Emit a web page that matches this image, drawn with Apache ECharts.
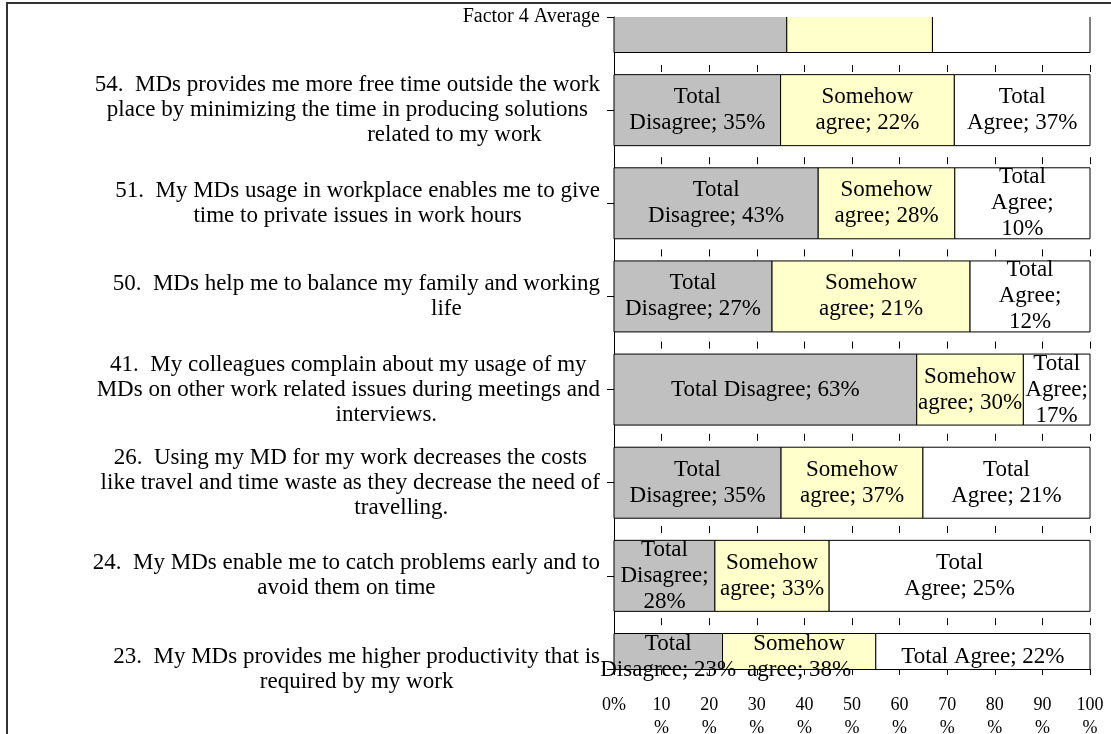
<!DOCTYPE html>
<html>
<head>
<meta charset="utf-8">
<script src="https://cdn.jsdelivr.net/npm/echarts@6/dist/echarts.min.js"></script>
<style>
  html, body { margin: 0; padding: 0; background: #fff; }
  #chart { width: 1111px; height: 734px; }
</style>
</head>
<body>
<div id="chart"></div>
<script>
// question labels, top to bottom
var categories = [
  'Factor 4 Average',
  '54.  MDs provides me more free time outside the work\nplace by minimizing the time in producing solutions\nrelated to my work',
  '51.  My MDs usage in workplace enables me to give\ntime to private issues in work hours',
  '50.  MDs help me to balance my family and working\nlife',
  '41.  My colleagues complain about my usage of my\nMDs on other work related issues during meetings and\ninterviews.',
  '26.  Using my MD for my work decreases the costs\nlike travel and time waste as they decrease the need of\ntravelling.',
  '24.  My MDs enable me to catch problems early and to\navoid them on time',
  '23.  My MDs provides me higher productivity that is\nrequired by my work'
]

// bar lengths (share of the 100% bar)
var disagreeLen = [36.3, 35.0, 42.9, 33.2, 63.6, 35.1, 21.2, 22.8]
var somehowLen = [30.6, 36.5, 28.7, 41.6, 22.4, 29.8, 24.0, 32.2]
var agreeLen = [33.1, 28.5, 28.4, 25.2, 14.0, 35.1, 54.8, 45.0]

// percentages printed in the data labels
var disagreePct = [null, 35, 43, 27, 63, 35, 28, 23]
var somehowPct = [null, 22, 28, 21, 30, 37, 33, 38]
var agreePct = [null, 37, 10, 12, 17, 21, 25, 22]

// how each label wraps: 0 one line, 1 break after first word, 2 break after every word
var disagreeWrap = [0, 1, 1, 1, 0, 1, 2, 1]
var somehowWrap = [0, 1, 1, 1, 1, 1, 1, 1]
var agreeWrap = [0, 1, 2, 2, 2, 1, 1, 0]

var xTicks = [0, 10, 20, 30, 40, 50, 60, 70, 80, 90, 100]

// the last line of some question labels sits right of centre in the original
var lastLineIndent = [0, 214, 0, 180, 76, 102, 0, 0]

var FONT = 'Liberation Serif'
var BAR_H = 71

function labelText(name, pct, wrap) {
  if (pct == null) return ''
  var words = name.split(' ')
  var a = words[0], b = words[1] + ';', c = pct + '%'
  if (wrap === 0) return a + ' ' + b + ' ' + c
  if (wrap === 1) return a + '\n' + b + ' ' + c
  return a + '\n' + b + '\n' + c
}

// stacked segments as [category, start, end]
function segments(lens, before) {
  return lens.map(function (v, i) {
    var s = 0
    before.forEach(function (arr) { s += arr[i] })
    return [i, s, s + v]
  })
}

function makeSeries(name, data, color, pcts, wraps) {
  return {
    name: name,
    type: 'custom',
    data: data,
    encode: { x: [1, 2], y: 0 },
    renderItem: function (params, api) {
      var cat = api.value(0)
      var p0 = api.coord([api.value(1), cat])
      var p1 = api.coord([api.value(2), cat])
      var cs = params.coordSys
      // bars at the first and last category are cut by the plot area
      var full = { x: p0[0], y: p0[1] - BAR_H / 2, width: p1[0] - p0[0], height: BAR_H }
      var r = echarts.graphic.clipRectByRect(full,
        { x: cs.x, y: cs.y, width: cs.width, height: cs.height })
      if (!r) return
      var cutTop = r.y > full.y + 0.5
      var cutBottom = r.y + r.height < full.y + full.height - 0.5
      var x0 = r.x, x1 = r.x + r.width, y0 = r.y, y1 = r.y + r.height
      // outline without the edge that was cut off
      var pts
      if (cutTop) pts = [[x0, y0], [x0, y1], [x1, y1], [x1, y0]]
      else if (cutBottom) pts = [[x0, y1], [x0, y0], [x1, y0], [x1, y1]]
      else pts = [[x0, y0], [x0, y1], [x1, y1], [x1, y0], [x0, y0]]
      return {
        type: 'group',
        children: [{
          type: 'rect',
          shape: r,
          style: { fill: color },
          textContent: {
            style: {
              text: labelText(name, pcts[params.dataIndex], wraps[params.dataIndex]),
              fill: '#000',
              fontFamily: FONT,
              fontSize: 23,
              lineHeight: 26,
              align: 'center',
              verticalAlign: 'middle'
            }
          },
          textConfig: { position: 'inside', offset: [0, cutBottom ? 6 : 0] }
        }, {
          type: 'polyline',
          shape: { points: pts },
          style: { stroke: '#000', fill: null, lineWidth: 1 }
        }]
      }
    }
  }
}

var rich = {
  c: { align: 'center', color: '#000', fontFamily: FONT, fontSize: 23, lineHeight: 25 },
  f: { align: 'center', color: '#000', fontFamily: FONT, fontSize: 20, lineHeight: 25 }
}
lastLineIndent.forEach(function (p, i) {
  rich['s' + i] = { align: 'center', color: '#000', fontFamily: FONT, fontSize: 23, lineHeight: 25, padding: [0, 0, 0, p] }
})

var chart = echarts.init(document.getElementById('chart'))

chart.setOption({
  backgroundColor: '#fff',
  animation: false,
  graphic: [{
    type: 'rect',
    silent: true,
    z: -10,
    shape: { x: 7, y: 3, width: 1300, height: 900 },
    style: { fill: 'none', stroke: '#333', lineWidth: 2 }
  }],
  grid: {
    left: 614,
    right: 21,
    top: 17,
    bottom: 65,
    containLabel: false,
    outerBoundsMode: 'none'
  },
  xAxis: {
    type: 'value',
    min: xTicks[0],
    max: xTicks[xTicks.length - 1],
    interval: 10,
    axisLine: { show: true, lineStyle: { color: '#000', width: 1 } },
    axisTick: { show: true, length: 6, lineStyle: { color: '#000' } },
    axisLabel: {
      color: '#000',
      fontFamily: FONT,
      fontSize: 18,
      lineHeight: 23,
      margin: 25,
      formatter: function (v) { return v === 0 ? '0%' : v + '\n%' }
    },
    splitLine: {
      show: true,
      lineStyle: { color: '#000', width: 1, type: [7, 85.2], dashOffset: 44.2 }
    }
  },
  yAxis: {
    type: 'category',
    inverse: true,
    boundaryGap: false,
    data: categories,
    axisLine: { show: true, lineStyle: { color: '#000', width: 1 } },
    axisTick: { show: true, length: 7, lineStyle: { color: '#000' } },
    splitLine: { show: false },
    axisLabel: {
      margin: 14,
      interval: 0,
      align: 'right',
      formatter: function (v, i) {
        var lines = v.split('\n')
        if (lines.length === 1) return '{f|' + v + '}'
        if (!lastLineIndent[i]) return '{c|' + v + '}'
        var last = lines.pop()
        return '{c|' + lines.join('\n') + '\n}{s' + i + '|' + last + '}'
      },
      rich: rich
    }
  },
  series: [
    makeSeries('Total Disagree', segments(disagreeLen, []), '#C0C0C0', disagreePct, disagreeWrap),
    makeSeries('Somehow agree', segments(somehowLen, [disagreeLen]), '#FFFFCC', somehowPct, somehowWrap),
    makeSeries('Total Agree', segments(agreeLen, [disagreeLen, somehowLen]), '#FFFFFF', agreePct, agreeWrap)
  ]
})
</script>
</body>
</html>
